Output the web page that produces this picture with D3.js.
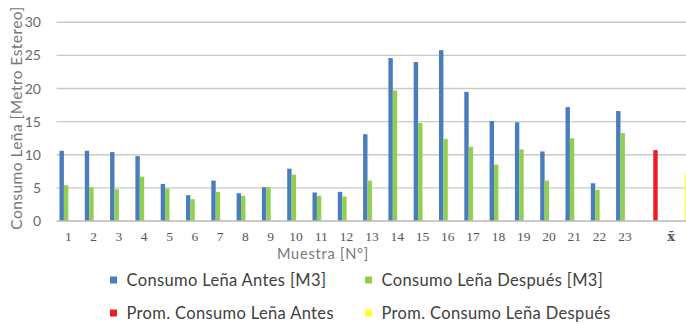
<!DOCTYPE html>
<html>
<head>
<meta charset="utf-8">
<script src="https://cdn.jsdelivr.net/npm/d3@7"></script>
<style>
  html, body { margin: 0; padding: 0; background: #fff; }
  svg { display: block; }
</style>
</head>
<body>
<svg id="chart" width="686" height="324"></svg>
<script>
// Wood consumption per sample, before and after, plus the two averages
const samples = ["1","2","3","4","5","6","7","8","9","10","11","12","13","14","15","16","17","18","19","20","21","22","23"];
const consumoAntes   = [10.6,10.6,10.4,9.8,5.6,3.9,6.1,4.2,5.1,7.9,4.3,4.4,13.1,24.6,24.0,25.8,19.5,15.1,14.9,10.5,17.2,5.7,16.6];
const consumoDespues = [5.4,5.1,4.8,6.7,4.9,3.3,4.4,3.8,5.1,7.0,3.8,3.7,6.1,19.7,14.8,12.4,11.2,8.5,10.8,6.1,12.5,4.7,13.3];
const promedios = [
  { key: "promAntes",   value: 10.7 },
  { key: "promDespues", value: 7.1 }
];
const meanLabel = "x\u0304";
const yTicks = [0, 5, 10, 15, 20, 25, 30];
const seriesKeys = ["antes", "despues", "promAntes", "promDespues"];
const seriesNames = {
  antes: "Consumo Leña Antes [M3]",
  despues: "Consumo Leña Después [M3]",
  promAntes: "Prom. Consumo Leña Antes",
  promDespues: "Prom. Consumo Leña Después"
};
const colors = {
  antes: "#4a7dbd",
  despues: "#92cf50",
  promAntes: "#ee1c25",
  promDespues: "#ffff2e"
};

const svg = d3.select("#chart");
const plotLeft = 56.5, plotRight = 686, baseY = 221, topY = 22.3;
const sans = "Lato, 'Open Sans', sans-serif";

const y = d3.scaleLinear().domain([0, 30]).range([baseY, topY]);

// outer band scale for the 23 samples
const step = 25.3;
const x = d3.scaleBand().domain(samples)
  .range([55.65, 55.65 + step * samples.length]).paddingInner(0).paddingOuter(0);
// four series slots inside each sample group
const xInner = d3.scaleBand().domain(seriesKeys)
  .range([0, x.bandwidth()]).paddingInner(0).paddingOuter(0.875);
// group for the two averages, to the right of the samples
const xMean = d3.scaleBand().domain(promedios.map(d => d.key))
  .range([x.range()[1], x.range()[1] + 67.4]).paddingInner(0.86).paddingOuter(0.5);

// gridlines
svg.append("g").selectAll("line").data(yTicks.filter(t => t > 0)).join("line")
  .attr("x1", plotLeft).attr("x2", plotRight)
  .attr("y1", d => y(d)).attr("y2", d => y(d))
  .attr("stroke", "#cacaca").attr("stroke-width", 1.4);

// y tick labels
svg.append("g").selectAll("text").data(yTicks).join("text")
  .attr("x", 41).attr("y", d => y(d)).attr("dy", "0.36em")
  .attr("text-anchor", "end")
  .attr("font-family", sans).attr("font-size", 14)
  .attr("fill", "#6b6b6b")
  .text(d => d);

// sample bars
const rows = samples.map((s, i) => ({ s, antes: consumoAntes[i], despues: consumoDespues[i] }));
const groups = svg.append("g").selectAll("g").data(rows).join("g")
  .attr("transform", d => `translate(${x(d.s)},0)`);
groups.selectAll("rect").data(d => ["antes", "despues"].map(k => ({ k, v: d[k] }))).join("rect")
  .attr("x", d => xInner(d.k)).attr("width", xInner.bandwidth())
  .attr("y", d => y(d.v)).attr("height", d => y(0) - y(d.v))
  .attr("fill", d => colors[d.k]);

// average bars
svg.append("g").selectAll("rect").data(promedios).join("rect")
  .attr("x", d => xMean(d.key)).attr("width", xMean.bandwidth())
  .attr("y", d => y(d.value)).attr("height", d => y(0) - y(d.value))
  .attr("fill", d => colors[d.key]);

// baseline
svg.append("line").attr("x1", plotLeft).attr("x2", plotRight)
  .attr("y1", baseY).attr("y2", baseY)
  .attr("stroke", "#b8b8b8").attr("stroke-width", 1.4);

// x tick labels
const xLab = svg.append("g")
  .attr("font-family", "'Liberation Serif', 'DejaVu Serif', serif").attr("font-size", 13.5)
  .attr("fill", "#555").attr("text-anchor", "middle");
xLab.selectAll("text").data(samples).join("text")
  .attr("x", d => x(d) + x.bandwidth() / 2).attr("y", 241)
  .text(d => d);
const meanCenter = (xMean(promedios[0].key) + xMean(promedios[1].key) + xMean.bandwidth()) / 2;
xLab.append("text").attr("x", meanCenter).attr("y", 241)
  .attr("font-family", "'DejaVu Serif', serif").attr("font-size", 13)
  .attr("font-weight", "bold").text(meanLabel);

// axis titles
svg.append("text").attr("x", 323).attr("y", 259).attr("text-anchor", "middle")
  .attr("font-family", sans).attr("font-size", 14.5).attr("letter-spacing", 0.8)
  .attr("fill", "#777").text("Muestra [N°]");
svg.append("text").attr("transform", "translate(22,118) rotate(-90)").attr("text-anchor", "middle")
  .attr("font-family", sans).attr("font-size", 15.5).attr("letter-spacing", 0.45)
  .attr("fill", "#777").text("Consumo Leña [Metro Estereo]");

// legend
const legendPos = {
  antes: [110, 286], despues: [365, 286],
  promAntes: [110, 319], promDespues: [365, 319]
};
const leg = svg.append("g").selectAll("g").data(seriesKeys).join("g")
  .attr("transform", d => `translate(${legendPos[d][0]},${legendPos[d][1]})`);
leg.append("rect").attr("x", 0).attr("y", -9.5).attr("width", 7).attr("height", 7)
  .attr("fill", d => colors[d]);
leg.append("text").attr("x", 16.5).attr("y", 0)
  .attr("font-family", sans).attr("font-size", 16.5).attr("letter-spacing", 0.35)
  .attr("fill", "#404040").text(d => seriesNames[d]);
</script>
</body>
</html>
